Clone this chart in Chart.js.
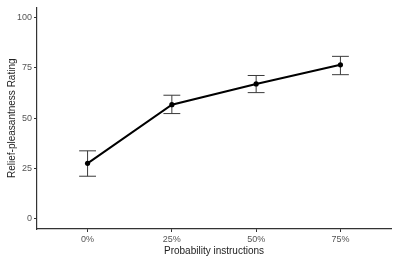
<!DOCTYPE html>
<html><head><meta charset="utf-8">
<script src="https://cdn.jsdelivr.net/npm/chart.js@4/dist/chart.umd.min.js"></script>
<style>html,body{margin:0;padding:0;background:#fff}#w{width:396px;height:260px}</style>
</head><body><div id="w"><canvas id="c" width="396" height="260"></canvas></div>
<script>
const categories = ["0%", "25%", "50%", "75%"];
const meanRating = [27.6, 56.7, 67.0, 76.5];
const upperRating = [33.8, 61.4, 71.2, 80.7];
const lowerRating = [21.2, 52.3, 62.7, 71.6];
const yTicks = [0, 25, 50, 75, 100];

const points = meanRating.map((v, i) => ({x: i + 1, y: v}));

const errorBars = {
  id: 'errorBars',
  beforeDatasetsDraw(chart) {
    const ctx = chart.ctx, xs = chart.scales.x, ys = chart.scales.y;
    ctx.save();
    ctx.strokeStyle = '#3a3a3a';
    ctx.lineWidth = 1;
    for (let i = 0; i < categories.length; i++) {
      const px = xs.getPixelForValue(i + 1);
      const t = ys.getPixelForValue(upperRating[i]);
      const b = ys.getPixelForValue(lowerRating[i]);
      const half = xs.getPixelForValue(1.1) - xs.getPixelForValue(1);
      ctx.beginPath();
      ctx.moveTo(px, t); ctx.lineTo(px, b);
      ctx.moveTo(px - half, t); ctx.lineTo(px + half, t);
      ctx.moveTo(px - half, b); ctx.lineTo(px + half, b);
      ctx.stroke();
    }
    ctx.restore();
  }
};

new Chart(document.getElementById('c'), {
  type: 'line',
  data: { datasets: [{
    data: points,
    borderColor: '#000', backgroundColor: '#000',
    borderWidth: 2, pointRadius: 2.6, pointHoverRadius: 2.6, pointBorderWidth: 0,
    tension: 0
  }]},
  options: {
    responsive: false, animation: false, devicePixelRatio: 1,
    layout: { padding: { top: 5, right: 5, left: 0, bottom: 0 } },
    plugins: { legend: { display: false }, tooltip: { enabled: false } },
    scales: {
      x: {
        type: 'linear', min: 0.4, max: 4.6,
        afterBuildTicks(s) { s.ticks = categories.map((c, i) => ({ value: i + 1 })); },
        afterFit(s) { s.height = 31; },
        ticks: { callback: (v) => categories[v - 1], color: '#555', font: { family: 'Liberation Sans', size: 9 }, padding: 2, maxRotation: 0 },
        grid: { drawOnChartArea: false, color: '#333', tickLength: 3, tickColor: '#333' },
        border: { color: '#333', width: 1.2 },
        title: { display: true, text: 'Probability instructions', color: '#222', font: { family: 'Liberation Sans', size: 10 }, padding: { top: 0, bottom: 3 } }
      },
      y: {
        min: -5, max: 105,
        afterBuildTicks(s) { s.ticks = yTicks.map(v => ({ value: v })); },
        afterFit(s) { s.width = 37; },
        ticks: { color: '#555', font: { family: 'Liberation Sans', size: 9 }, padding: 2 },
        grid: { drawOnChartArea: false, color: '#333', tickLength: 3, tickColor: '#333' },
        border: { color: '#333', width: 1.2 },
        title: { display: true, text: 'Relief-pleasantness Rating', color: '#222', font: { family: 'Liberation Sans', size: 10 }, padding: { top: 6, bottom: 0 } }
      }
    }
  },
  plugins: [errorBars]
});
</script></body></html>
